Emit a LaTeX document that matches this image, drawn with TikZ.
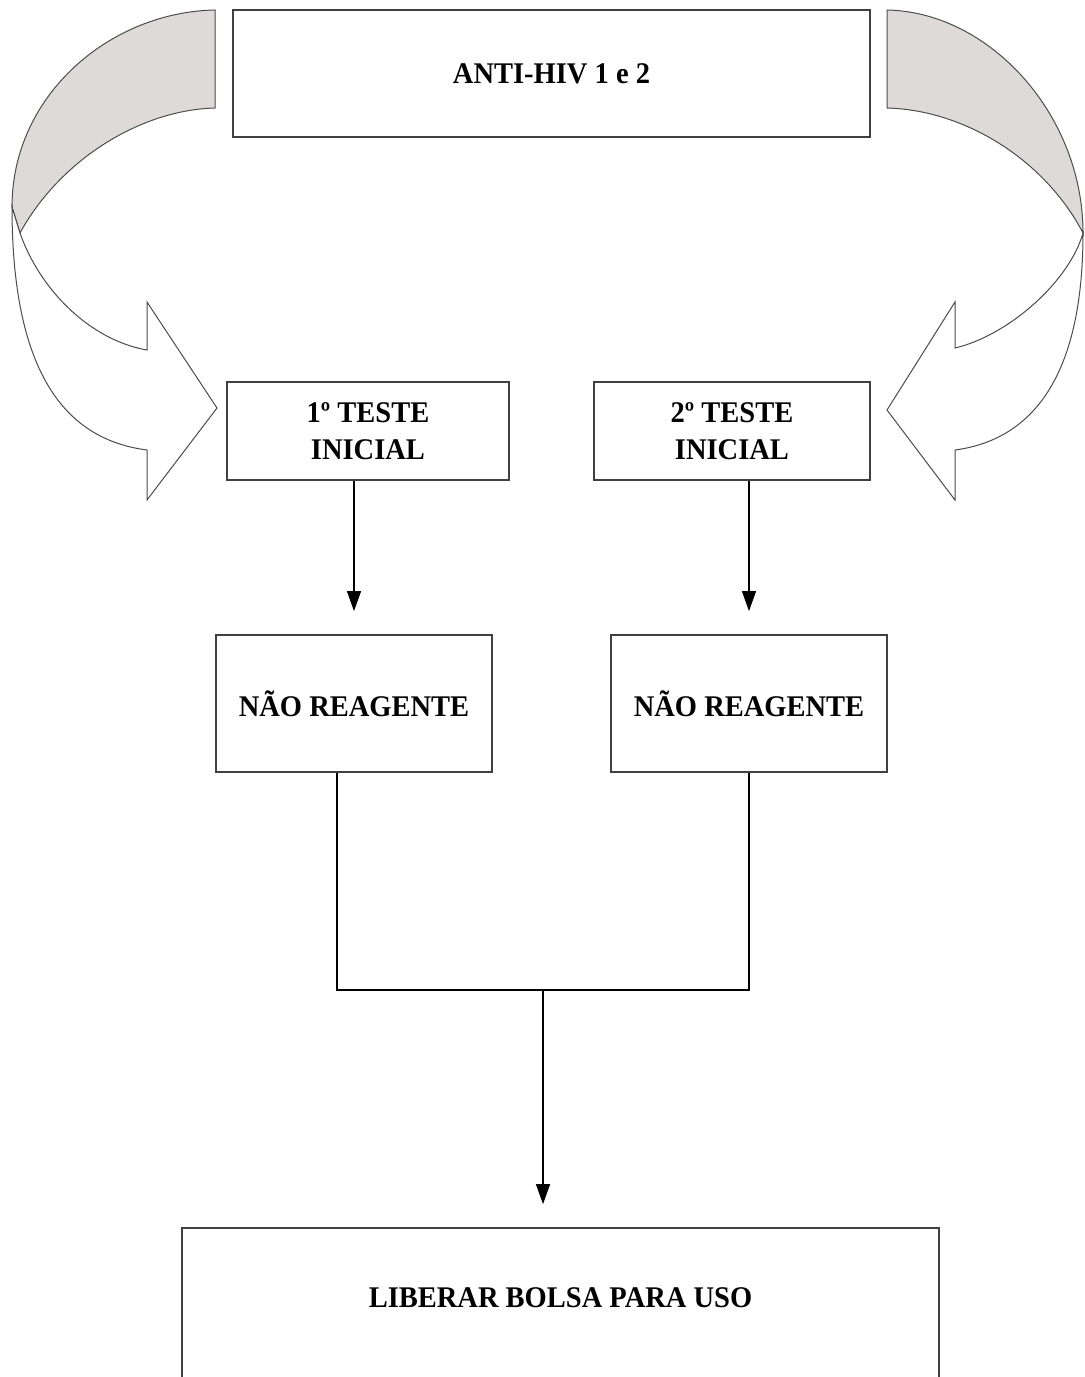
\documentclass[tikz,border=0pt]{standalone}
\usepackage{fontspec}
\setmainfont{Liberation Serif}[FakeStretch=0.95]
\usetikzlibrary{arrows.meta}
\definecolor{backgray}{RGB}{223,218,218}
\tikzstyle{block} = [draw=black!75, line width=0.9pt, fill=white, rectangle,
    align=center, font=\bfseries\fontsize{15}{18.5}\selectfont]
\tikzstyle{arrow} = [line width=0.6pt, -{Triangle[length=10pt, width=7pt]}, shorten >=11.5pt]
\tikzstyle{line} = [line width=0.6pt]
\tikzstyle{bendarrow} = [draw=black!70, line width=0.5pt]

\begin{document}
\begin{tikzpicture}[x=0.5pt, y=-0.5pt]
        \useasboundingbox (0,0) rectangle (1085,1377);

        % curved arrows
        \draw [bendarrow, fill=backgray] (215,10) .. controls (110,12) and (12,95) .. (12,207) -- (20,233) .. controls (60,160) and (140,110) .. (215,108) -- cycle;
        \draw [bendarrow, fill=white] (12,207) .. controls (12,380) and (70,440) .. (147,450) -- (147,500) -- (217,408) -- (147,302) -- (147,350) .. controls (90,340) and (40,290) .. (20,233) -- cycle;
        \draw [bendarrow, fill=backgray] (887,10) .. controls (990,12) and (1083,115) .. (1083,233) .. controls (1045,160) and (965,110) .. (887,108) -- cycle;
        \draw [bendarrow, fill=white] (1083,233) .. controls (1083,380) and (1030,440) .. (955,450) -- (955,500) -- (887,410) -- (955,302) -- (955,348) .. controls (1010,335) and (1070,280) .. (1083,233) -- cycle;

        \node [block, minimum width=318.5pt, minimum height=63.5pt] (anti) at (551.5,73.5) {ANTI-HIV 1 e 2};

        \node [block, minimum width=141pt, minimum height=49pt] (t1) at (368,431) {1º TESTE\\INICIAL};
        \node [block, minimum width=138pt, minimum height=49pt] (t2) at (732,431) {2º TESTE\\INICIAL};

        \node [block, minimum width=138pt, minimum height=68.5pt] (n1) at (354,703.5) {NÃO REAGENTE};
        \node [block, minimum width=138pt, minimum height=68.5pt] (n2) at (749,703.5) {NÃO REAGENTE};

        \node [block, minimum width=378.5pt, minimum height=81pt, text height=10pt, text depth=12pt] (lib) at (560.5,1309) {LIBERAR BOLSA PARA USO};

        \coordinate (jl) at (337,990);
        \coordinate (jr) at (749,990);
        \coordinate (jm) at (543,990);

        \draw [arrow] (n1.north |- t1.south) -- (n1.north);
        \draw [arrow] (n2.north |- t2.south) -- (n2.north);
        \draw [line] (n1.south -| jl) -- (jl) -- (jr) -- (n2.south);
        \draw [arrow] (jm) -- (lib.north -| jm);
\end{tikzpicture}
\end{document}
